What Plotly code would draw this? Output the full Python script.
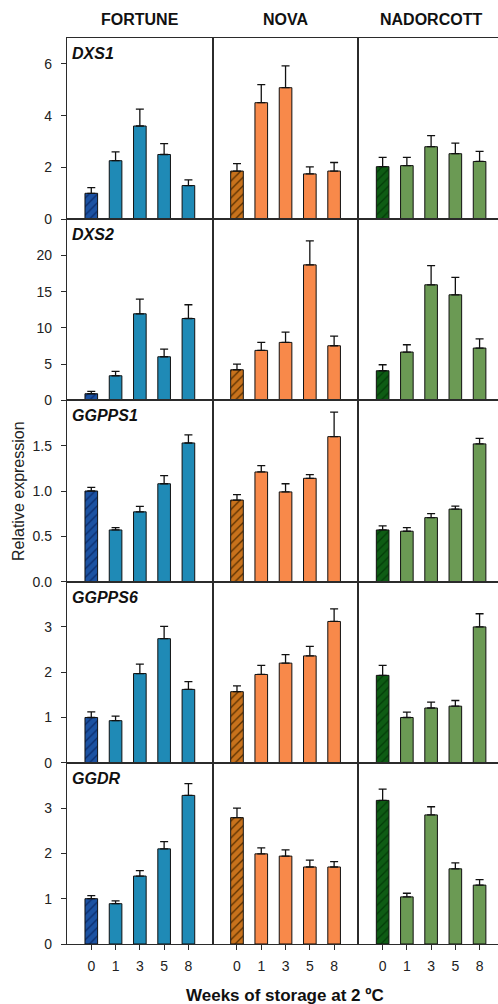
import plotly.graph_objects as go
from plotly.subplots import make_subplots

weeks = ["0", "1", "3", "5", "8"]
cultivars = ["FORTUNE", "NOVA", "NADORCOTT"]
genes = ["DXS1", "DXS2", "GGPPS1", "GGPPS6", "GGDR"]

# Relative expression (mean) and standard error, per gene and cultivar
dxs1_fortune = [1.0, 2.26, 3.6, 2.5, 1.3]
dxs1_fortune_err = [0.22, 0.34, 0.65, 0.42, 0.22]
dxs1_nova = [1.86, 4.5, 5.08, 1.75, 1.86]
dxs1_nova_err = [0.29, 0.7, 0.84, 0.27, 0.33]
dxs1_nador = [2.03, 2.07, 2.8, 2.53, 2.23]
dxs1_nador_err = [0.36, 0.32, 0.43, 0.41, 0.39]

dxs2_fortune = [0.92, 3.4, 11.95, 6.02, 11.3]
dxs2_fortune_err = [0.32, 0.6, 2.03, 1.06, 1.9]
dxs2_nova = [4.23, 6.9, 8.0, 18.7, 7.54]
dxs2_nova_err = [0.77, 1.1, 1.43, 3.3, 1.33]
dxs2_nador = [4.09, 6.67, 15.95, 14.57, 7.22]
dxs2_nador_err = [0.83, 1.01, 2.65, 2.4, 1.28]

ggpps1_fortune = [1.0, 0.57, 0.77, 1.08, 1.53]
ggpps1_fortune_err = [0.04, 0.026, 0.06, 0.09, 0.09]
ggpps1_nova = [0.9, 1.21, 0.99, 1.14, 1.6]
ggpps1_nova_err = [0.06, 0.07, 0.09, 0.04, 0.27]
ggpps1_nador = [0.57, 0.556, 0.706, 0.8, 1.52]
ggpps1_nador_err = [0.045, 0.04, 0.044, 0.034, 0.06]

ggpps6_fortune = [1.0, 0.93, 1.97, 2.74, 1.62]
ggpps6_fortune_err = [0.125, 0.1, 0.21, 0.27, 0.17]
ggpps6_nova = [1.57, 1.95, 2.2, 2.36, 3.12]
ggpps6_nova_err = [0.13, 0.2, 0.19, 0.21, 0.28]
ggpps6_nador = [1.93, 1.0, 1.21, 1.25, 3.0]
ggpps6_nador_err = [0.22, 0.12, 0.13, 0.125, 0.29]

ggdr_fortune = [1.0, 0.89, 1.5, 2.1, 3.28]
ggdr_fortune_err = [0.07, 0.06, 0.12, 0.16, 0.26]
ggdr_nova = [2.79, 1.99, 1.94, 1.7, 1.7]
ggdr_nova_err = [0.21, 0.13, 0.14, 0.15, 0.12]
ggdr_nador = [3.17, 1.04, 2.85, 1.66, 1.3]
ggdr_nador_err = [0.25, 0.08, 0.18, 0.13, 0.12]

y_max = [7, 25, 2, 4, 4]
y_ticks = [[0, 2, 4, 6], [0, 5, 10, 15, 20], [0.0, 0.5, 1.0, 1.5], [0, 1, 2, 3], [0, 1, 2, 3]]
y_ticktext = [["0", "2", "4", "6"], ["0", "5", "10", "15", "20"],
              ["0.0", "0.5", "1.0", "1.5"], ["0", "1", "2", "3"], ["0", "1", "2", "3"]]

values = [
    [(dxs1_fortune, dxs1_fortune_err), (dxs1_nova, dxs1_nova_err), (dxs1_nador, dxs1_nador_err)],
    [(dxs2_fortune, dxs2_fortune_err), (dxs2_nova, dxs2_nova_err), (dxs2_nador, dxs2_nador_err)],
    [(ggpps1_fortune, ggpps1_fortune_err), (ggpps1_nova, ggpps1_nova_err), (ggpps1_nador, ggpps1_nador_err)],
    [(ggpps6_fortune, ggpps6_fortune_err), (ggpps6_nova, ggpps6_nova_err), (ggpps6_nador, ggpps6_nador_err)],
    [(ggdr_fortune, ggdr_fortune_err), (ggdr_nova, ggdr_nova_err), (ggdr_nador, ggdr_nador_err)],
]

base_colors = ["#1f8ab6", "#f8894a", "#6b9a54"]
first_colors = ["#1c52a2", "#c8721c", "#0e5c14"]
hatch_colors = ["#0b2c6c", "#5a3000", "#033d08"]

FONT = "Arial, 'Liberation Sans', sans-serif"
LINE = "#2b2b2b"

fig = make_subplots(rows=5, cols=3, horizontal_spacing=0, vertical_spacing=0,
                    column_widths=[145.7, 145.7, 139.6])

err_style = dict(type="data", symmetric=False, color="#111111", thickness=1.3, width=4)

for r in range(5):
    for c in range(3):
        vals, errs = values[r][c]
        # week 0 (control) bar: hatched
        fig.add_trace(go.Bar(
            x=weeks[:1], y=vals[:1], width=0.52,
            marker=dict(color=first_colors[c], line=dict(color="#111111", width=1),
                        pattern=dict(shape="/", fgcolor=hatch_colors[c], bgcolor=first_colors[c],
                                     size=6, solidity=0.22, fillmode="replace")),
            error_y=dict(array=errs[:1], arrayminus=[0], **err_style),
            showlegend=False,
        ), row=r + 1, col=c + 1)
        # storage weeks
        fig.add_trace(go.Bar(
            x=weeks[1:], y=vals[1:], width=0.52,
            marker=dict(color=base_colors[c], line=dict(color="#111111", width=1)),
            error_y=dict(array=errs[1:], arrayminus=[0] * 4, **err_style),
            showlegend=False,
        ), row=r + 1, col=c + 1)
        xr = [-1, 5] if c < 2 else [-1, 4.76]
        fig.update_xaxes(type="category", categoryorder="array", categoryarray=weeks,
                         range=xr, showline=True, linecolor=LINE, linewidth=1.3,
                         mirror=True, showgrid=False, zeroline=False,
                         ticks="outside" if r == 4 else "", ticklen=5, tickcolor=LINE,
                         showticklabels=(r == 4), ticklabelstandoff=4,
                         tickfont=dict(family=FONT, size=14, color="#222"),
                         row=r + 1, col=c + 1)
        fig.update_yaxes(range=[0, y_max[r]], showline=True, linecolor=LINE, linewidth=1.3,
                         mirror=(c < 2), showgrid=False, zeroline=False,
                         tickvals=y_ticks[r], ticktext=y_ticktext[r],
                         ticks="outside" if c == 0 else "", ticklen=5, tickcolor=LINE,
                         showticklabels=(c == 0), ticklabelstandoff=6,
                         tickfont=dict(family=FONT, size=14, color="#222"),
                         row=r + 1, col=c + 1)

annotations = []
# gene labels
for r, g in enumerate(genes):
    idx = r * 3 + 1
    xa = "x" if idx == 1 else f"x{idx}"
    ya = "y" if idx == 1 else f"y{idx}"
    annotations.append(dict(text=f"<b><i>{g}</i></b>", xref=f"{xa} domain", yref=f"{ya} domain",
                            x=0, y=1, xanchor="left", yanchor="top", xshift=3, yshift=-5,
                            showarrow=False, font=dict(family=FONT, size=16, color="#111")))
# column titles
for c, name in enumerate(cultivars):
    xa = "x" if c == 0 else f"x{c + 1}"
    annotations.append(dict(text=f"<b>{name}</b>", xref=f"{xa} domain", yref="paper",
                            x=0.5 if c < 2 else 0.52, y=1, yanchor="middle", yshift=19,
                            showarrow=False, font=dict(family=FONT, size=16, color="#111")))
annotations.append(dict(text="<b>Weeks of storage at 2 ºC</b>", xref="paper", yref="paper",
                        x=0.505, y=0, yanchor="middle", yshift=-51, showarrow=False,
                        font=dict(family=FONT, size=17, color="#111")))
annotations.append(dict(text="Relative expression", xref="paper", yref="paper",
                        x=0, y=0.5, xanchor="center", yanchor="middle", xshift=-49,
                        textangle=-90, showarrow=False,
                        font=dict(family=FONT, size=16, color="#222")))

fig.update_layout(width=498, height=1004, margin=dict(l=67, r=0, t=38, b=60),
                  paper_bgcolor="white", plot_bgcolor="white", barmode="overlay",
                  annotations=annotations)

fig.write_html("out.html", config={"displayModeBar": False},
               post_script="document.body.style.margin='0';document.body.style.overflow='hidden';")
